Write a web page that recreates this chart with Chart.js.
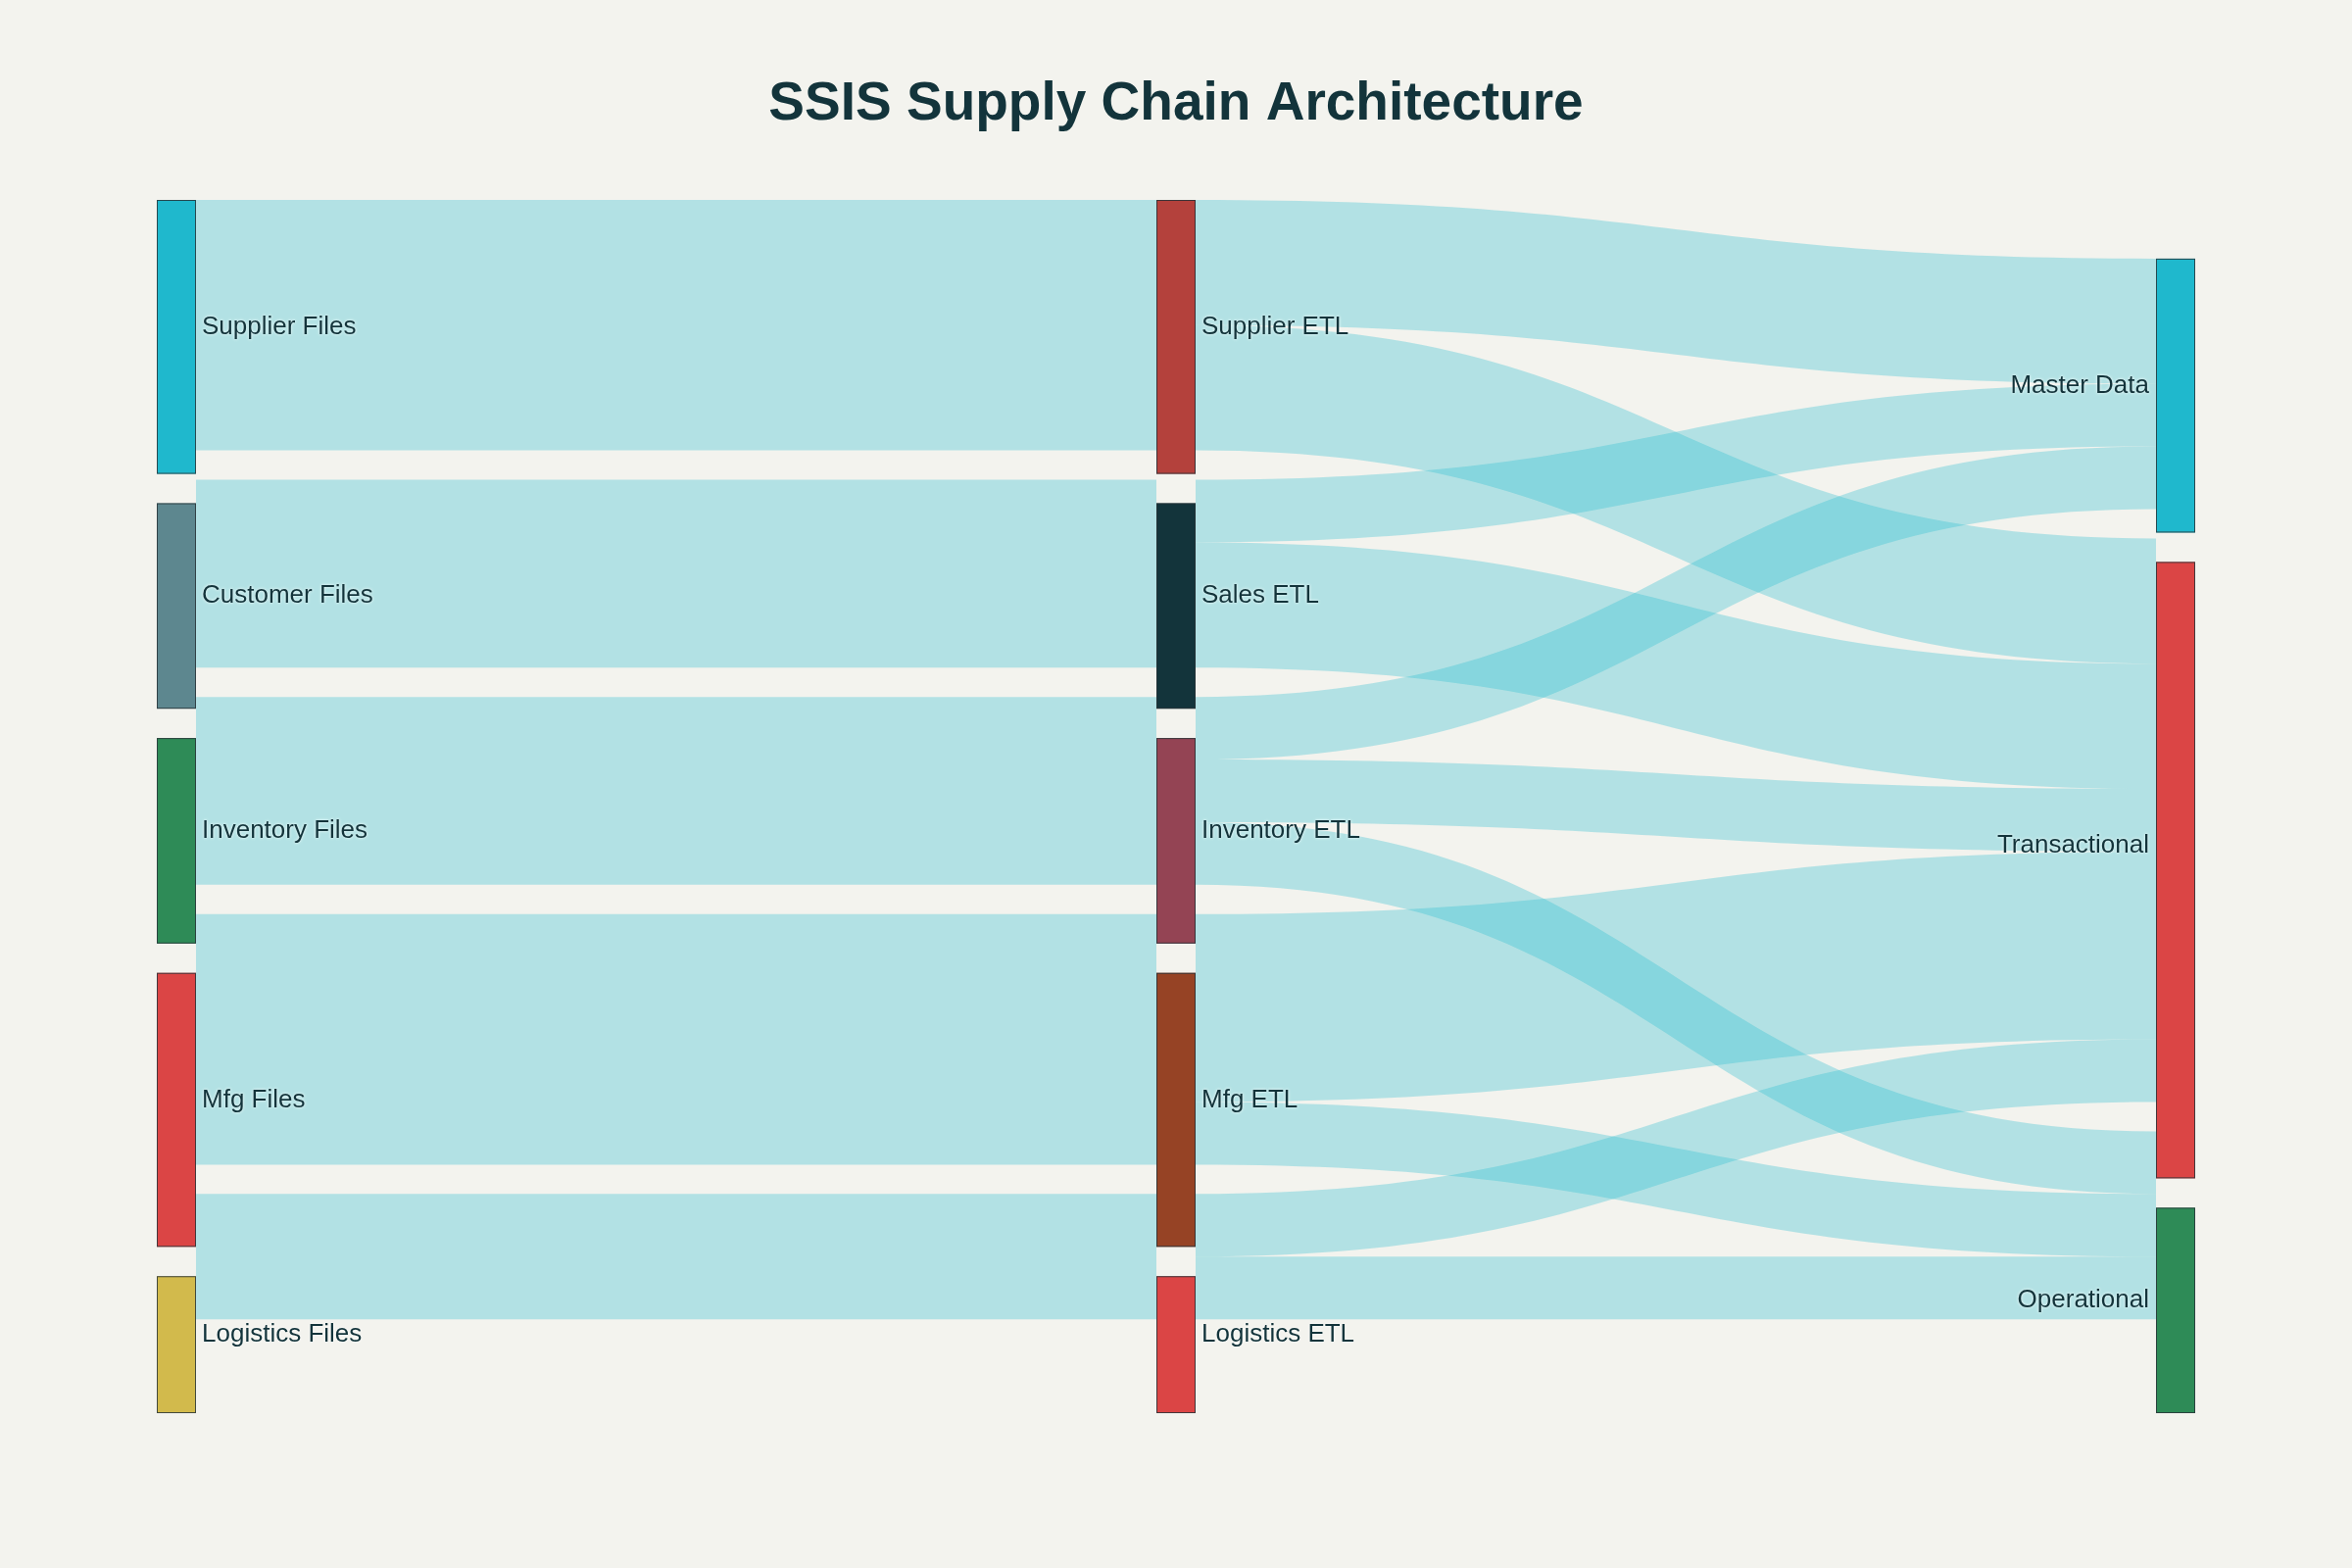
<!DOCTYPE html>
<html>
<head>
<meta charset="utf-8">
<title>SSIS Supply Chain Architecture</title>
<script src="https://cdn.jsdelivr.net/npm/chart.js@4.4.0/dist/chart.umd.min.js"></script>
<style>
  html, body { margin: 0; padding: 0; background: #F3F3EE; }
  #wrap { width: 2400px; height: 1600px; }
</style>
</head>
<body>
<div id="wrap"><canvas id="chart" width="2400" height="1600"></canvas></div>
<script>
// Sankey: Quelldateien -> ETL-Pakete -> Zielbereiche
// Chart.js hat keinen Sankey-Typ, daher zeichnet ein kleines Plugin
// Knoten und Flüsse über die x/y-Skalen des Charts.

const nodeLabels = [
    'Supplier Files', 'Customer Files', 'Inventory Files', 'Mfg Files', 'Logistics Files',
    'Supplier ETL', 'Sales ETL', 'Inventory ETL', 'Mfg ETL', 'Logistics ETL',
    'Master Data', 'Transactional', 'Operational'
];
const nodeColumns = [0, 0, 0, 0, 0, 1, 1, 1, 1, 1, 2, 2, 2];
const nodeColors = [
    '#1FB8CD', '#5D878F', '#2E8B57', '#DB4545', '#D2BA4C',
    '#B4413C', '#13343B', '#944454', '#964325', '#DB4545',
    '#1FB8CD', '#DB4545', '#2E8B57'
];

const linkSources = [0, 1, 2, 3, 4, 5, 5, 6, 6, 7, 7, 7, 8, 8, 9, 9];
const linkTargets = [5, 6, 7, 8, 9, 10, 11, 10, 11, 10, 11, 12, 11, 12, 11, 12];
const linkValues  = [4, 3, 3, 4, 2, 2, 2, 1, 2, 1, 1, 1, 3, 1, 1, 1];
const linkColor = 'rgba(31,184,205,0.3)';

const NODE_W = 40;              // px
const NODE_GAP = 30 / 70;       // Abstand zwischen Knoten (in Werteinheiten)
const LINK_RATIO = 64 / 70;     // Flüsse sind etwas schmaler als die Knoten
const TEXT_COLOR = '#13343B';
const X_SHIFT = 20 / 1020;      // Spalten sitzen 20px links vom symmetrischen Plotbereich
const LABEL_NUDGE = { 'Transactional': -15 };  // px, Label sitzt etwas höher

function layoutNodes() {
    const n = nodeLabels.length;
    const inSum = new Array(n).fill(0);
    const outSum = new Array(n).fill(0);
    linkValues.forEach((v, k) => {
        outSum[linkSources[k]] += v;
        inSum[linkTargets[k]] += v;
    });
    const val = inSum.map((v, i) => Math.max(v, outSum[i]));
    const cols = [...new Set(nodeColumns)];
    const members = cols.map(c => nodeColumns.map((cc, i) => cc === c ? i : -1).filter(i => i >= 0));
    const totals = members.map(ids => ids.reduce((s, i) => s + val[i], 0) + (ids.length - 1) * NODE_GAP);
    const maxTotal = Math.max(...totals);
    const nodeTop = [], linkTop = [];
    members.forEach((ids, ci) => {
        let y = maxTotal - totals[ci];
        let ly = y;
        ids.forEach(i => {
            nodeTop[i] = y;
            linkTop[i] = ly;
            y += val[i] + NODE_GAP;
            ly += val[i] * LINK_RATIO + NODE_GAP;
        });
    });
    return { val, nodeTop, linkTop, maxTotal };
}

const L = layoutNodes();

const sankeyPlugin = {
    id: 'sankey',
    beforeDatasetsDraw(chart) {
        const { ctx, scales: { x, y } } = chart;
        const n = nodeLabels.length;
        const ids = linkValues.map((_, k) => k);
        const srcY = [], tgtY = [];
        const outOff = new Array(n).fill(0), inOff = new Array(n).fill(0);
        [...ids].sort((a, b) => linkSources[a] - linkSources[b] || linkTargets[a] - linkTargets[b])
            .forEach(k => {
                const s = linkSources[k];
                srcY[k] = L.linkTop[s] + outOff[s];
                outOff[s] += linkValues[k] * LINK_RATIO;
            });
        [...ids].sort((a, b) => linkTargets[a] - linkTargets[b] || linkSources[a] - linkSources[b])
            .forEach(k => {
                const t = linkTargets[k];
                tgtY[k] = L.linkTop[t] + inOff[t];
                inOff[t] += linkValues[k] * LINK_RATIO;
            });

        ctx.save();
        ctx.fillStyle = linkColor;
        ids.forEach(k => {
            const w = linkValues[k] * LINK_RATIO;
            const x0 = x.getPixelForValue(nodeColumns[linkSources[k]]) + NODE_W;
            const x1 = x.getPixelForValue(nodeColumns[linkTargets[k]]);
            const xm = (x0 + x1) / 2;
            const s0 = y.getPixelForValue(srcY[k]), s1 = y.getPixelForValue(srcY[k] + w);
            const t0 = y.getPixelForValue(tgtY[k]), t1 = y.getPixelForValue(tgtY[k] + w);
            ctx.beginPath();
            ctx.moveTo(x0, s0);
            ctx.bezierCurveTo(xm, s0, xm, t0, x1, t0);
            ctx.lineTo(x1, t1);
            ctx.bezierCurveTo(xm, t1, xm, s1, x0, s1);
            ctx.closePath();
            ctx.fill();
        });
        ctx.restore();
    },
    afterDatasetsDraw(chart) {
        const { ctx, scales: { x, y } } = chart;
        ctx.save();
        // Knoten
        nodeLabels.forEach((name, i) => {
            const left = x.getPixelForValue(nodeColumns[i]);
            const top = y.getPixelForValue(L.nodeTop[i]);
            const bottom = y.getPixelForValue(L.nodeTop[i] + L.val[i]);
            ctx.fillStyle = nodeColors[i];
            ctx.fillRect(left, top, NODE_W, bottom - top);
            ctx.strokeStyle = 'rgba(40,52,56,0.85)';
            ctx.lineWidth = 1;
            ctx.strokeRect(left + 0.5, top + 0.5, NODE_W - 1, bottom - top - 1);
        });
        // Beschriftungen
        ctx.font = '26px "Liberation Sans", Arial, sans-serif';
        ctx.fillStyle = TEXT_COLOR;
        ctx.textBaseline = 'alphabetic';
        ctx.shadowColor = 'rgba(255,255,255,0.95)';
        ctx.shadowBlur = 3;
        const lastCol = Math.max(...nodeColumns);
        nodeLabels.forEach((name, i) => {
            const left = x.getPixelForValue(nodeColumns[i]);
            const mid = y.getPixelForValue(L.nodeTop[i] + L.val[i] / 2) - 3 + (LABEL_NUDGE[name] || 0);
            if (nodeColumns[i] === lastCol) {
                ctx.textAlign = 'right';
                ctx.fillText(name, left - 7, mid);
            } else {
                ctx.textAlign = 'left';
                ctx.fillText(name, left + NODE_W + 6, mid);
            }
        });
        ctx.restore();
    }
};

const ctx = document.getElementById('chart').getContext('2d');
const chart = new Chart(ctx, {
    type: 'scatter',
    data: {
        datasets: [{
            label: 'Knoten',
            data: nodeLabels.map((_, i) => ({ x: nodeColumns[i], y: L.nodeTop[i] + L.val[i] / 2 })),
            pointRadius: 0,
            pointHoverRadius: 0
        }]
    },
    options: {
        responsive: false,
        animation: false,
        events: [],
        layout: { padding: { left: 180, right: 180, top: 0, bottom: 158 } },
        plugins: {
            legend: { display: false },
            tooltip: { enabled: false },
            title: {
                display: true,
                text: 'SSIS Supply Chain Architecture',
                color: TEXT_COLOR,
                font: { family: '"Liberation Sans", Arial, sans-serif', size: 55, weight: 'bold' },
                padding: { top: 74, bottom: 64 }
            }
        },
        scales: {
            x: { type: 'linear', min: X_SHIFT, max: 2 + X_SHIFT, display: false },
            y: { type: 'linear', min: 0, max: L.maxTotal, reverse: true, display: false }
        }
    },
    plugins: [sankeyPlugin]
});
</script>
</body>
</html>
